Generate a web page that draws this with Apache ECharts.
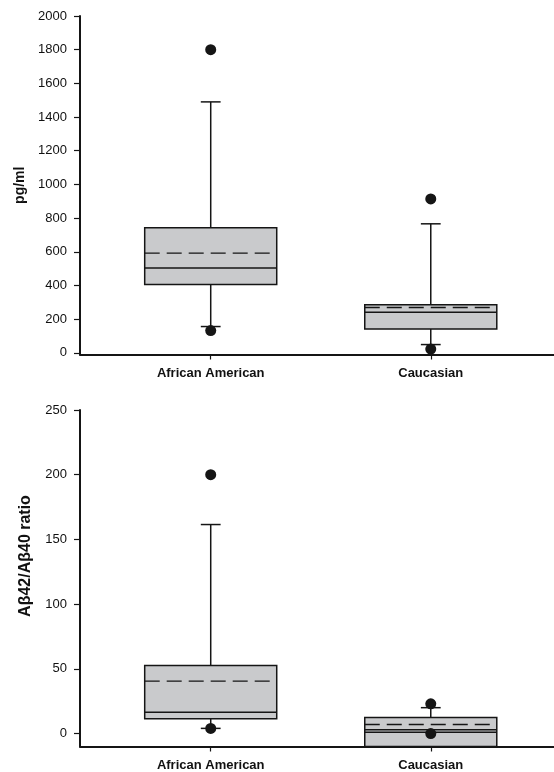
<!DOCTYPE html>
<html>
<head>
<meta charset="utf-8">
<script src="https://cdn.jsdelivr.net/npm/echarts@6/dist/echarts.min.js"></script>
<style>
html,body{margin:0;padding:0;background:#fff;}
#chart{width:554px;height:772px;}
</style>
</head>
<body>
<div id="chart"></div>
<script>
// ---------- data ----------
const categories = ['African American', 'Caucasian'];
const categoryPos = [1, 2];

// Panel A: concentration (pg/ml)
const concWhiskerLow  = [156, 49];
const concQ1          = [405, 141];
const concBoxBase     = [405, 141];
const concMedian      = [503, 241];
const concMean        = [592, 269];
const concQ3          = [742, 285];
const concWhiskerHigh = [1490, 766];
const concOutliers    = [[1, 1800], [1, 132], [2, 914], [2, 22]];
const concTicks       = [0, 200, 400, 600, 800, 1000, 1200, 1400, 1600, 1800, 2000];

// Panel B: Aβ42/Aβ40 ratio
const ratioWhiskerLow  = [4, 1];
const ratioQ1          = [11.5, 1];
const ratioBoxBase     = [11.5, -10];
const ratioMedian      = [16.5, 3];
const ratioMean        = [40.5, 7];
const ratioQ3          = [52.6, 12.5];
const ratioWhiskerHigh = [161.5, 20];
const ratioOutliers    = [[1, 200], [1, 4], [2, 23], [2, 0]];
const ratioTicks       = [0, 50, 100, 150, 200, 250];
const ratioTitle       = 'Aβ42/Aβ40 ratio';

// ---------- build ----------
function rows(wl, q1, base, med, mean, q3, wh) {
  return categoryPos.map((p, i) => [p, wl[i], q1[i], base[i], med[i], mean[i], q3[i], wh[i]]);
}
const BOX_W = 0.6, CAP_W = 0.09;
const INK = '#151515';
const FONT = 'Liberation Sans, Arial, sans-serif';
function boxRender(params, api) {
  const x = api.value(0);
  const wl = api.value(1), q1 = api.value(2), base = api.value(3), med = api.value(4),
        mean = api.value(5), q3 = api.value(6), wh = api.value(7);
  const halfW = api.size([BOX_W, 0])[0] / 2;
  const capH = api.size([CAP_W, 0])[0] / 2;
  const cx = api.coord([x, 0])[0];
  const Y = v => api.coord([x, v])[1];
  const ls = {stroke: INK, lineWidth: 1.5, fill: null};
  const ch = [];
  ch.push({type: 'line', shape: {x1: cx, y1: Y(q3), x2: cx, y2: Y(wh)}, style: ls});
  ch.push({type: 'line', shape: {x1: cx - capH, y1: Y(wh), x2: cx + capH, y2: Y(wh)}, style: ls});
  ch.push({type: 'line', shape: {x1: cx, y1: Y(q1), x2: cx, y2: Y(wl)}, style: ls});
  ch.push({type: 'line', shape: {x1: cx - capH, y1: Y(wl), x2: cx + capH, y2: Y(wl)}, style: ls});
  ch.push({type: 'rect', shape: {x: cx - halfW, y: Y(q3), width: 2 * halfW, height: Y(base) - Y(q3)},
           style: {fill: '#c9cacc', stroke: INK, lineWidth: 1.5}});
  if (q1 !== base) {
    ch.push({type: 'line', shape: {x1: cx - halfW, y1: Y(q1), x2: cx + halfW, y2: Y(q1)}, style: ls});
  }
  ch.push({type: 'line', shape: {x1: cx - halfW, y1: Y(med), x2: cx + halfW, y2: Y(med)}, style: ls});
  ch.push({type: 'line', shape: {x1: cx - halfW, y1: Y(mean), x2: cx + halfW, y2: Y(mean)},
           style: {stroke: INK, lineWidth: 1.3, lineDash: [15, 7], fill: null}});
  return {type: 'group', children: ch};
}

function xAxisCfg(gi) {
  return {
    gridIndex: gi, type: 'value', min: 0.406, max: 2.56,
    axisLine: {show: true, onZero: false, lineStyle: {color: INK, width: 2}},
    axisTick: {show: true, customValues: categoryPos, length: 5, lineStyle: {color: INK, width: 1.2}},
    axisLabel: {customValues: categoryPos, margin: 12, formatter: v => categories[Math.round(v) - 1],
                fontWeight: 'bold', color: '#111', fontSize: 13, fontFamily: FONT},
    splitLine: {show: false}
  };
}
function yAxisCfg(gi, min, max, ticks, name, gap, nameSize) {
  return {
    gridIndex: gi, type: 'value', min: min, max: max,
    name: name, nameLocation: 'middle', nameGap: gap, nameRotate: 90,
    nameTextStyle: {fontWeight: 'bold', color: '#111', fontSize: nameSize, fontFamily: FONT},
    axisLine: {show: true, lineStyle: {color: INK, width: 2}},
    axisTick: {show: true, customValues: ticks, length: 6, lineStyle: {color: INK, width: 1.2}},
    axisLabel: {customValues: ticks, margin: 13, formatter: v => String(v),
                color: '#111', fontSize: 13, fontFamily: FONT},
    splitLine: {show: false}
  };
}

const option = {
  backgroundColor: '#fff',
  animation: false,
  grid: [
    {left: 80, right: 0, top: 16, height: 338.5},
    {left: 80, right: 0, top: 410, height: 336.5}
  ],
  graphic: [{
    type: 'text', x: 26, y: 556, rotation: Math.PI / 2,
    style: {text: ratioTitle, fill: '#111', font: 'bold 16px ' + FONT,
            textAlign: 'center', textVerticalAlign: 'middle'}
  }],
  xAxis: [xAxisCfg(0), xAxisCfg(1)],
  yAxis: [
    yAxisCfg(0, -10, 2000, concTicks, 'pg/ml', 49, 14),
    yAxisCfg(1, -10, 250, ratioTicks, '', 42, 15)
  ],
  series: [
    {type: 'custom', xAxisIndex: 0, yAxisIndex: 0, renderItem: boxRender,
     encode: {x: 0, y: [1, 2, 3, 4, 5, 6, 7]},
     data: rows(concWhiskerLow, concQ1, concBoxBase, concMedian, concMean, concQ3, concWhiskerHigh)},
    {type: 'scatter', xAxisIndex: 0, yAxisIndex: 0, symbolSize: 11, itemStyle: {color: INK, opacity: 1},
     data: concOutliers, z: 5},
    {type: 'custom', xAxisIndex: 1, yAxisIndex: 1, renderItem: boxRender,
     encode: {x: 0, y: [1, 2, 3, 4, 5, 6, 7]},
     data: rows(ratioWhiskerLow, ratioQ1, ratioBoxBase, ratioMedian, ratioMean, ratioQ3, ratioWhiskerHigh)},
    {type: 'scatter', xAxisIndex: 1, yAxisIndex: 1, symbolSize: 11, itemStyle: {color: INK, opacity: 1},
     data: ratioOutliers, z: 5}
  ]
};
const chart = echarts.init(document.getElementById('chart'), null, {renderer: 'canvas'});
chart.setOption(option);
</script>
</body>
</html>
